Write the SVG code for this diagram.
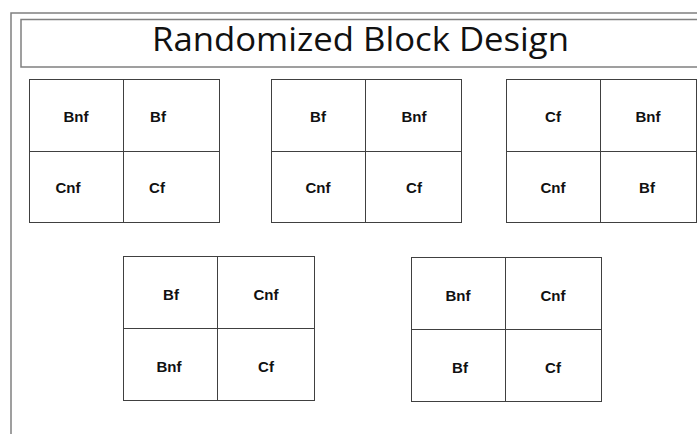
<svg xmlns="http://www.w3.org/2000/svg" width="697" height="434" viewBox="0 0 697 434">
<style>
.frame{fill:none;stroke:#808080;stroke-width:1.5}
.grid{fill:#fff;stroke:#404040;stroke-width:1}
.title{font-family:"Open Sans","Liberation Sans",sans-serif;font-size:33.5px;fill:#111}
.lbl{font-family:"Liberation Sans",Arial,sans-serif;font-weight:bold;font-size:15px;fill:#111;text-anchor:middle}
</style>
<rect width="697" height="434" fill="#fff"/>
<g id="frame">
<path class="frame" d="M11,434 V13 H700"/>
</g>
<g id="title">
<path class="frame" d="M700,19.5 H21 V67 H700"/>
<text class="title" x="152" y="51" textLength="417" lengthAdjust="spacingAndGlyphs">Randomized Block Design</text>
</g>
<g id="block1">
<rect class="grid" x="29.5" y="79.5" width="190" height="143"/>
<path class="grid" d="M123.5,79.5 V222.5 M29.5,151.5 H219.5"/>
<text class="lbl" x="76" y="122">Bnf</text>
<text class="lbl" x="158" y="122">Bf</text>
<text class="lbl" x="68" y="193">Cnf</text>
<text class="lbl" x="157" y="193">Cf</text>
</g>
<g id="block2">
<rect class="grid" x="271.5" y="79.5" width="190" height="143"/>
<path class="grid" d="M365.5,79.5 V222.5 M271.5,151.5 H461.5"/>
<text class="lbl" x="318" y="122">Bf</text>
<text class="lbl" x="414" y="122">Bnf</text>
<text class="lbl" x="318" y="193">Cnf</text>
<text class="lbl" x="414" y="193">Cf</text>
</g>
<g id="block3">
<rect class="grid" x="506.5" y="79.5" width="190" height="143"/>
<path class="grid" d="M600.5,79.5 V222.5 M506.5,151.5 H696.5"/>
<text class="lbl" x="553" y="122">Cf</text>
<text class="lbl" x="648" y="122">Bnf</text>
<text class="lbl" x="553" y="193">Cnf</text>
<text class="lbl" x="647" y="193">Bf</text>
</g>
<g id="block4">
<rect class="grid" x="123.5" y="256.5" width="191" height="144"/>
<path class="grid" d="M217.5,256.5 V400.5 M123.5,328.5 H314.5"/>
<text class="lbl" x="171" y="300">Bf</text>
<text class="lbl" x="266" y="300">Cnf</text>
<text class="lbl" x="169" y="372">Bnf</text>
<text class="lbl" x="266" y="372">Cf</text>
</g>
<g id="block5">
<rect class="grid" x="411.5" y="257.5" width="190" height="144"/>
<path class="grid" d="M505.5,257.5 V401.5 M411.5,329.5 H601.5"/>
<text class="lbl" x="458" y="301">Bnf</text>
<text class="lbl" x="553" y="301">Cnf</text>
<text class="lbl" x="460" y="373">Bf</text>
<text class="lbl" x="553" y="373">Cf</text>
</g>
<g id="connectors"></g>
</svg>
